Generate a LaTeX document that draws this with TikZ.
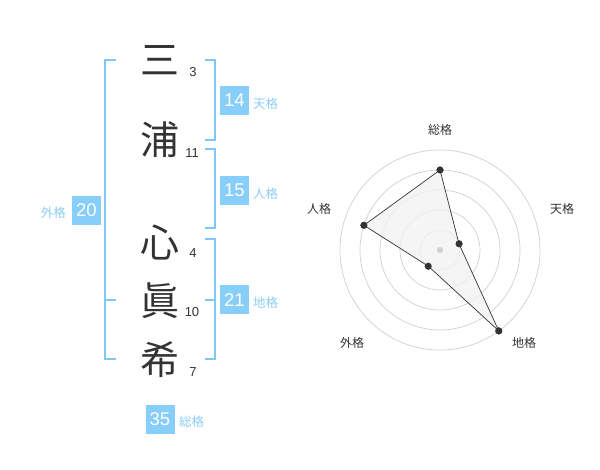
\documentclass[tikz,border=0pt]{standalone}
\usepackage{fontspec}
\setmainfont{Liberation Sans}
\newfontfamily\jp{Noto Sans CJK JP}
\usepackage{tikz}
\definecolor{kakublue}{RGB}{125,200,248}
\definecolor{boxblue}{RGB}{135,206,250}
\definecolor{textblue}{RGB}{140,205,245}
\definecolor{ink}{RGB}{51,51,51}
\definecolor{ring}{RGB}{208,208,208}
\definecolor{web}{RGB}{242,242,242}

\begin{document}
\begin{tikzpicture}[x=1pt,y=-1pt,
  kanji/.style={font=\jp\fontsize{39}{39}\selectfont, text=ink, inner sep=0pt},
  strokes/.style={font=\fontsize{13}{13}\selectfont, text=ink, inner sep=0pt},
  kaku/.style={fill=boxblue, text=white, minimum size=29pt, inner sep=0pt, font=\fontsize{18.5}{18.5}\selectfont},
  kakuname/.style={font=\jp\fontsize{12.5}{12.5}\selectfont, text=textblue, inner sep=0pt},
  bracket/.style={kakublue, line width=2pt},
  axisname/.style={font=\jp\fontsize{12}{12}\selectfont, text=ink, inner sep=0pt},
  dot/.style={circle, fill=ink, minimum size=7pt, inner sep=0pt}]
\useasboundingbox (0,0) rectangle (600,470);

% name and strokes
\node[kanji] (c1) at (160,60) {三};
\node[kanji] (c2) at (160,140) {浦};
\node[kanji] (c3) at (160,243) {心};
\node[kanji] (c4) at (160,301) {眞};
\node[kanji] (c5) at (160,360) {希};
\node[strokes] (n1) at (193,72.5) {3};
\node[strokes] (n2) at (192,153) {11};
\node[strokes] (n3) at (193,253) {4};
\node[strokes] (n4) at (192,312.5) {10};
\node[strokes] (n5) at (193,372.5) {7};

% brackets
\coordinate (gai1) at (116,60);
\coordinate (gai2) at (116,300);
\coordinate (gai3) at (116,359.5);
\coordinate (ten1) at (205,60);
\coordinate (ten2) at (205,140);
\coordinate (jin1) at (205,149.5);
\coordinate (jin2) at (205,228.5);
\coordinate (chi1) at (205,239.5);
\coordinate (chi2) at (205,300);
\coordinate (chi3) at (205,359.5);
\draw[bracket] (gai1) -- ++(-11,0) |- (gai3);
\draw[bracket] (gai2) -- ++(-11,0);
\draw[bracket] (ten1) -- ++(9.5,0) |- (ten2);
\draw[bracket] (jin1) -- ++(9.5,0) |- (jin2);
\draw[bracket] (chi1) -- ++(9.5,0) |- (chi3);
\draw[bracket] (chi2) -- ++(9.5,0);

% kaku values
\node[kaku] (ten) at (234.5,100.5) {14};
\node[kaku] (jin) at (234.5,190.5) {15};
\node[kaku] (chi) at (234.5,300) {21};
\node[kaku] (gai) at (86.5,210.5) {20};
\node[kaku] (so) at (160,419) {35};
\node[kakuname, anchor=west] (tenname) at (253,104) {天格};
\node[kakuname, anchor=west] (jinname) at (253,194) {人格};
\node[kakuname, anchor=west] (chiname) at (253,303) {地格};
\node[kakuname, anchor=east] (gainame) at (66,213) {外格};
\node[kakuname, anchor=west] (soname) at (179,422) {総格};

% radar chart
\begin{scope}[shift={(440,250)}, y=1pt]
\foreach \r in {20,40,60,80,100}
  \draw[ring, line width=0.7pt] (0,0) circle[radius=\r pt];
\node[dot] (pso) at (90:80) {};
\node[dot] (pten) at (18:20) {};
\node[dot] (pchi) at (-54:100) {};
\node[dot] (pgai) at (-126:20) {};
\node[dot] (pjin) at (162:80) {};
\draw[ink, line width=0.7pt, fill=web, fill opacity=0.8] (pso.center) -- (pten.center) -- (pchi.center) -- (pgai.center) -- (pjin.center) -- cycle;
\node[circle, fill=ring, minimum size=6pt, inner sep=0pt] (mid) at (0,0) {};
\foreach \p in {pso,pten,pchi,pgai,pjin}
  \fill[ink] (\p) circle[radius=3.5pt];
\end{scope}
\node[axisname] (aso) at (440,130) {総格};
\node[axisname] (aten) at (562,208.5) {天格};
\node[axisname] (ajin) at (319,208.5) {人格};
\node[axisname] (agai) at (352,342.5) {外格};
\node[axisname] (achi) at (524,342.5) {地格};
\end{tikzpicture}
\end{document}
